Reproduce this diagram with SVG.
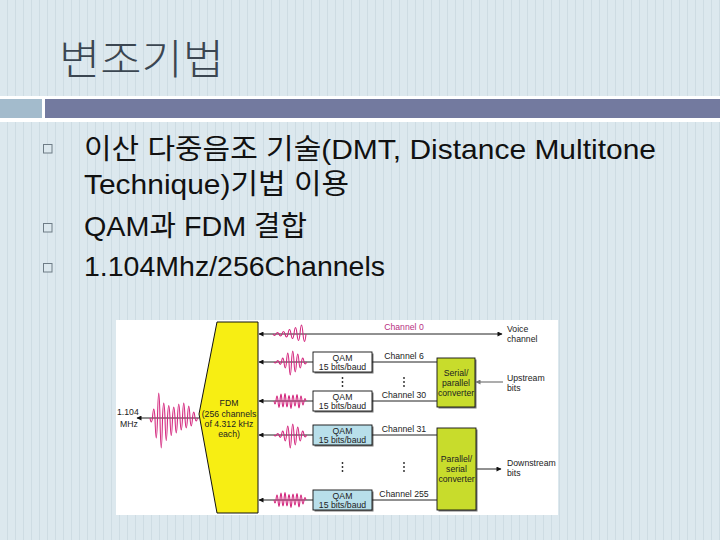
<svg xmlns="http://www.w3.org/2000/svg" width="720" height="540" viewBox="0 0 720 540">
<defs>
<pattern id="stripes" x="0" y="0" width="8" height="8" patternUnits="userSpaceOnUse">
<rect width="8" height="8" fill="#dce8ee"/>
<rect x="7" width="2" height="8" fill="#cedce3"/>
</pattern>
<marker id="ah" viewBox="0 0 10 10" refX="9" refY="5" markerWidth="6" markerHeight="5" orient="auto" markerUnits="userSpaceOnUse">
<path d="M0,0 L10,5 L0,10 z" fill="#111"/>
</marker>
<marker id="ahg" viewBox="0 0 10 10" refX="9" refY="5" markerWidth="6" markerHeight="5" orient="auto" markerUnits="userSpaceOnUse">
<path d="M0,0 L10,5 L0,10 z" fill="#777"/>
</marker>
<style>
.title{font-family:"Noto Sans CJK KR","Liberation Sans",sans-serif;font-size:41px;fill:#3b4651;font-weight:300}
.bt{font-family:"Liberation Sans","Noto Sans CJK KR",sans-serif;font-size:28px;fill:#111}
.bul{fill:#dce8ee;stroke:#6e7c86;stroke-width:1}
.d{font-family:"Liberation Sans",sans-serif;font-size:8.7px;fill:#222}
.c{text-anchor:middle}
.wave{fill:none;stroke:#d3267d;stroke-width:1.1}
.ln{stroke:#222;stroke-width:1;fill:none}
.box{stroke:#111;stroke-width:0.9}
.shadow{fill:#777}
</style>
</defs>
<rect width="720" height="540" fill="url(#stripes)"/>
<!-- header bar -->
<rect x="0" y="96" width="720" height="26" fill="#ffffff"/>
<rect x="0" y="99" width="42" height="19" fill="#a3bbcc"/>
<rect x="45" y="99" width="675" height="19" fill="#737a9f"/>
<text class="title" x="59" y="74" textLength="165" lengthAdjust="spacingAndGlyphs">변조기법</text>
<!-- bullets -->
<g id="bullets">
<rect class="bul" x="43.5" y="144.5" width="8.5" height="8.5"/>
<rect class="bul" x="43.5" y="223.5" width="8.5" height="8.5"/>
<rect class="bul" x="43.5" y="263.5" width="8.5" height="8.5"/>
<text class="bt" x="84" y="159" textLength="572" lengthAdjust="spacingAndGlyphs">이산 다중음조 기술(DMT, Distance Multitone</text>
<text class="bt" x="84" y="194" textLength="265" lengthAdjust="spacingAndGlyphs">Technique)기법 이용</text>
<text class="bt" x="84" y="236" textLength="223" lengthAdjust="spacingAndGlyphs">QAM과 FDM 결합</text>
<text class="bt" x="84" y="276" textLength="301" lengthAdjust="spacingAndGlyphs">1.104Mhz/256Channels</text>
</g>
<!-- figure -->
<rect x="116" y="320" width="442" height="195" fill="#ffffff"/>
<g id="fdm">
<polygon points="217,322 258,322 258,513 217,513 199,414" fill="#f7ee13" stroke="#111" stroke-width="1"/>
<text class="d c" x="229" y="406">FDM</text>
<text class="d c" x="229" y="417">(256 channels</text>
<text class="d c" x="229" y="427">of 4.312 kHz</text>
<text class="d c" x="229" y="437">each)</text>
</g>
<g id="output">
<text class="d" x="117" y="415">1.104</text>
<text class="d" x="120" y="427">MHz</text>
</g>
<g id="qam1">
<rect class="shadow" x="314.5" y="353.5" width="59" height="20"/>
<rect class="box" x="313" y="352" width="59" height="20" fill="#ffffff"/>
<text class="d c" x="342.5" y="361">QAM</text>
<text class="d c" x="342.5" y="370">15 bits/baud</text>
</g>
<g id="qam2">
<rect class="shadow" x="314.5" y="392.5" width="59" height="20"/>
<rect class="box" x="313" y="391" width="59" height="20" fill="#ffffff"/>
<text class="d c" x="342.5" y="400">QAM</text>
<text class="d c" x="342.5" y="409">15 bits/baud</text>
</g>
<g id="qam3">
<rect class="shadow" x="314.5" y="426.5" width="59" height="20"/>
<rect class="box" x="313" y="425" width="59" height="20" fill="#b8dfea"/>
<text class="d c" x="342.5" y="434">QAM</text>
<text class="d c" x="342.5" y="443">15 bits/baud</text>
</g>
<g id="qam4">
<rect class="shadow" x="314.5" y="491.5" width="59" height="20"/>
<rect class="box" x="313" y="490" width="59" height="20" fill="#b8dfea"/>
<text class="d c" x="342.5" y="499">QAM</text>
<text class="d c" x="342.5" y="508">15 bits/baud</text>
</g>
<g id="sp-converter">
<rect class="shadow" x="438.5" y="359.5" width="38" height="49"/>
<rect class="box" x="437" y="358" width="38" height="49" fill="#c8dc2c"/>
<text class="d c" x="456" y="376">Serial/</text>
<text class="d c" x="456" y="386">parallel</text>
<text class="d c" x="456" y="396">converter</text>
</g>
<g id="ps-converter">
<rect class="shadow" x="438.5" y="429.5" width="39" height="82"/>
<rect class="box" x="437" y="428" width="39" height="82" fill="#c8dc2c"/>
<text class="d c" x="456.5" y="462">Parallel/</text>
<text class="d c" x="456.5" y="472">serial</text>
<text class="d c" x="456.5" y="482">converter</text>
</g>
<g id="side-labels">
<text class="d" x="507" y="332">Voice</text>
<text class="d" x="507" y="342">channel</text>
<text class="d" x="507" y="381">Upstream</text>
<text class="d" x="507" y="391">bits</text>
<text class="d" x="507" y="466">Downstream</text>
<text class="d" x="507" y="476">bits</text>
</g>
<g id="connectors">
<line class="ln" x1="380" y1="334" x2="502" y2="334" marker-end="url(#ah)"/>
<line class="ln" x1="380" y1="334" x2="259" y2="334" marker-end="url(#ah)"/>
<line class="ln" x1="313" y1="362" x2="259" y2="362" marker-end="url(#ah)"/>
<line class="ln" x1="313" y1="401" x2="259" y2="401" marker-end="url(#ah)"/>
<line class="ln" x1="313" y1="435" x2="259" y2="435" marker-end="url(#ah)"/>
<line class="ln" x1="313" y1="500" x2="259" y2="500" marker-end="url(#ah)"/>
<line class="ln" x1="372" y1="362" x2="437" y2="362"/>
<line class="ln" x1="372" y1="401" x2="437" y2="401"/>
<line class="ln" x1="372" y1="435" x2="437" y2="435"/>
<line class="ln" x1="372" y1="500" x2="437" y2="500"/>
<line x1="503" y1="382" x2="476" y2="382" stroke="#777" stroke-width="1.2" marker-end="url(#ahg)"/>
<line class="ln" x1="477" y1="469" x2="501" y2="469" marker-end="url(#ah)"/>
<line class="ln" x1="199" y1="418" x2="137" y2="418" marker-end="url(#ah)"/>
<text class="d c" x="404" y="330" style="fill:#b8307f">Channel 0</text>
<text class="d c" x="404" y="359">Channel 6</text>
<text class="d c" x="404" y="398">Channel 30</text>
<text class="d c" x="404" y="432">Channel 31</text>
<text class="d c" x="404" y="497">Channel 255</text>
<g fill="#222">
<circle cx="342.5" cy="378" r="0.9"/><circle cx="342.5" cy="382" r="0.9"/><circle cx="342.5" cy="386" r="0.9"/>
<circle cx="404" cy="378" r="0.9"/><circle cx="404" cy="382" r="0.9"/><circle cx="404" cy="386" r="0.9"/>
<circle cx="342.5" cy="463" r="0.9"/><circle cx="342.5" cy="467" r="0.9"/><circle cx="342.5" cy="471" r="0.9"/>
<circle cx="404" cy="463" r="0.9"/><circle cx="404" cy="467" r="0.9"/><circle cx="404" cy="471" r="0.9"/>
</g>
<!-- waveforms -->
<path class="wave" d="M273,334 q1.5,3 3,0 q1.5,-3 3,0 q1.5,4 3,0 q1.5,-5 3,0 q1.5,6 3,0 q1.5,-9 3,0 q1.5,9 3,0 q1.5,-13 3,0 q1.5,13 3,0 q1.5,-18 3,0 q1.5,15 3,0"/>
<path class="wave" d="M274,362 q1.25,2 2.5,0 q1.25,-3 2.5,0 q1.25,5 2.5,0 q1.25,-8 2.5,0 q1.25,12 2.5,0 q1.25,-18 2.5,0 q1.25,26 2.5,0 q1.25,-22 2.5,0 q1.25,20 2.5,0 q1.25,-16 2.5,0 q1.25,12 2.5,0 q1.25,-8 2.5,0 q1.25,4 2.5,0"/>
<path class="wave" d="M274,401 q1,6 2,0 q1,-10 2,0 q1,13 2,0 q1,-14 2,0 q1,12 2,0 q1,-15 2,0 q1,12 2,0 q1,-11 2,0 q1,15 2,0 q1,-12 2,0 q1,10 2,0 q1,-13 2,0 q1,14 2,0 q1,-10 2,0 q1,8 2,0 q1,-5 2,0"/>
<path class="wave" d="M274,435 q1.25,2 2.5,0 q1.25,-3 2.5,0 q1.25,5 2.5,0 q1.25,-8 2.5,0 q1.25,12 2.5,0 q1.25,-18 2.5,0 q1.25,26 2.5,0 q1.25,-22 2.5,0 q1.25,20 2.5,0 q1.25,-16 2.5,0 q1.25,12 2.5,0 q1.25,-8 2.5,0 q1.25,4 2.5,0"/>
<path class="wave" d="M274,500 q1,6 2,0 q1,-10 2,0 q1,13 2,0 q1,-14 2,0 q1,12 2,0 q1,-15 2,0 q1,12 2,0 q1,-11 2,0 q1,15 2,0 q1,-12 2,0 q1,10 2,0 q1,-13 2,0 q1,14 2,0 q1,-10 2,0 q1,8 2,0 q1,-5 2,0"/>
<path class="wave" d="M150,418 q1.25,8 2.5,0 q1.25,-18 2.5,0 q1.25,40 2.5,0 q1.25,-50 2.5,0 q1.25,60 2.5,0 q1.25,-30 2.5,0 q1.25,45 2.5,0 q1.25,-25 2.5,0 q1.25,35 2.5,0 q1.25,-22 2.5,0 q1.25,30 2.5,0 q1.25,-28 2.5,0 q1.25,24 2.5,0 q1.25,-30 2.5,0 q1.25,20 2.5,0 q1.25,-24 2.5,0 q1.25,16 2.5,0 q1.25,-12 2.5,0 q1.25,6 2.5,0"/>
</g>
</svg>
